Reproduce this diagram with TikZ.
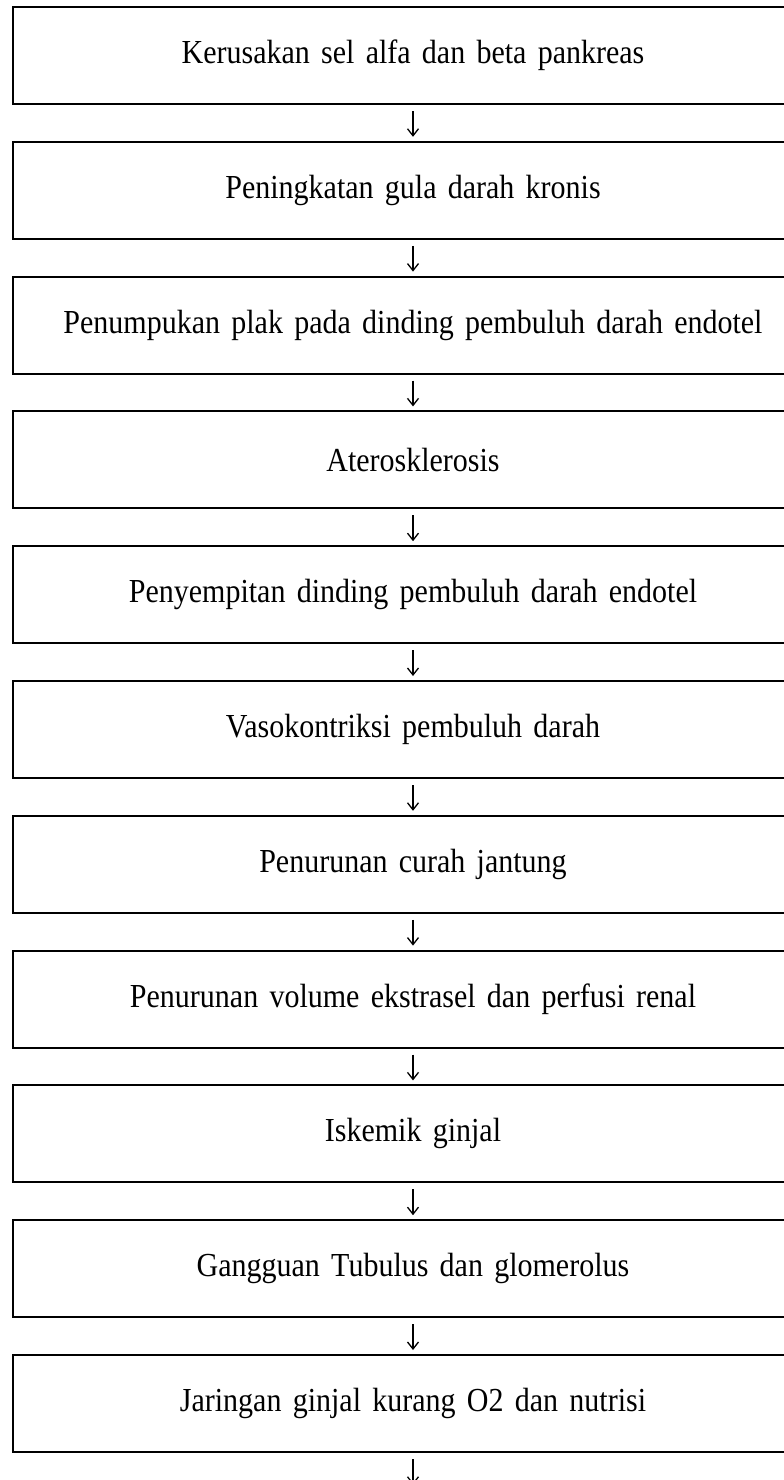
\documentclass[tikz,border=0pt]{standalone}
\usepackage{fontspec}
\setmainfont[WordSpace=1.5]{Liberation Serif}
\usepackage{tikz}
\usetikzlibrary{positioning, arrows.meta}
\newcommand{\tall}[1]{\scalebox{1}[1.12]{#1}}

\begin{document}
\begin{tikzpicture}[x=1pt, y=1pt,
    box/.style={draw, line width=2pt, minimum width=800pt, minimum height=97pt,
      outer sep=0pt, inner sep=0pt, font=\fontsize{30}{36}\selectfont},
    flow/.style={-{Straight Barb[length=7pt, width=11pt]}, line width=1.3pt,
      shorten <=7pt, shorten >=5pt}]
    % page frame
    \useasboundingbox (0,0) rectangle (784,-1480);
    % boxes
    \node[box] (box1) at (413,-55.5) {\tall{Kerusakan sel alfa dan beta pankreas}};
    \node[box, below=37.8pt of box1] (box2) {\tall{Peningkatan gula darah kronis}};
    \node[box, below=37.8pt of box2] (box3) {\tall{Penumpukan plak pada dinding pembuluh darah endotel}};
    \node[box, below=37.8pt of box3] (box4) {\tall{Aterosklerosis}};
    \node[box, below=37.8pt of box4] (box5) {\tall{Penyempitan dinding pembuluh darah endotel}};
    \node[box, below=37.8pt of box5] (box6) {\tall{Vasokontriksi pembuluh darah}};
    \node[box, below=37.8pt of box6] (box7) {\tall{Penurunan curah jantung}};
    \node[box, below=37.8pt of box7] (box8) {\tall{Penurunan volume ekstrasel dan perfusi renal}};
    \node[box, below=37.8pt of box8] (box9) {\tall{Iskemik ginjal}};
    \node[box, below=37.8pt of box9] (box10) {\tall{Gangguan Tubulus dan glomerolus}};
    \node[box, below=37.8pt of box10] (box11) {\tall{Jaringan ginjal kurang O2 dan nutrisi}};
    \coordinate[below=37.8pt of box11.south] (tail);
    % arrows
    \foreach \a/\b in {1/2, 2/3, 3/4, 4/5, 5/6, 6/7, 7/8, 8/9, 9/10, 10/11}
      \draw[flow] (box\a) -- (box\b);
    \draw[flow] (box11) -- (tail);
\end{tikzpicture}
\end{document}
